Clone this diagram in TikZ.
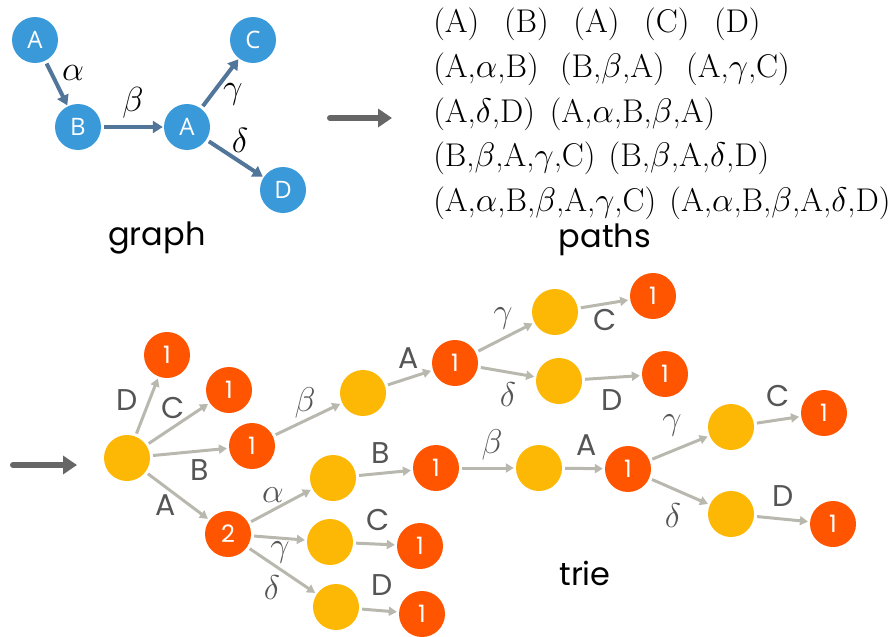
\documentclass[tikz,border=0pt]{standalone}
\usepackage{fontspec}
\newfontfamily\handfont{Poppins}
\newfontfamily\nodefont{Open Sans}
\usetikzlibrary{arrows.meta}
\definecolor{gblue}{HTML}{3A9AD9}
\definecolor{garrow}{HTML}{52759A}
\definecolor{tyellow}{HTML}{FDB705}
\definecolor{torange}{HTML}{FF5500}
\definecolor{tarrow}{HTML}{B8B8AE}
\definecolor{tlabel}{HTML}{555555}
\definecolor{bigarrow}{HTML}{666666}
\begin{document}
\begin{tikzpicture}[x=1pt,y=-1pt,
 gnode/.style={circle,fill=gblue,minimum size=46pt,inner sep=0pt,text=white,font=\nodefont\fontsize{24}{24}\selectfont},
 garr/.style={draw=garrow,line width=4pt,-{Triangle[length=10pt,width=12pt]},shorten <=3pt,shorten >=1pt},
 glab/.style={font=\fontsize{24}{24}\selectfont,scale=1.4},
 tnode/.style={circle,minimum size=46pt,inner sep=0pt,text=white,font=\handfont\fontsize{24}{24}\selectfont},
 ynode/.style={tnode,fill=tyellow},
 onode/.style={tnode,fill=torange},
 tarr/.style={draw=tarrow,line width=3pt,-{Triangle[length=8pt,width=9pt]},shorten <=3pt,shorten >=2pt},
 tlab/.style={text=tlabel,font=\handfont\fontsize{30}{30}\selectfont},
 tglab/.style={text=tlabel,font=\fontsize{24}{24}\selectfont,scale=1.38},
 bigarr/.style={draw=bigarrow,line width=6pt,line cap=round,-{Triangle[length=14pt,width=18pt]}},
 ptext/.style={anchor=west,inner sep=0pt,font=\fontsize{24}{24}\selectfont,scale=1.37},
 caption/.style={font=\handfont\fontsize{32}{32}\selectfont}
]
\useasboundingbox (0,0) rectangle (889,637);
% graph
\node[gnode] (gA1) at (35,40) {A};
\node[gnode] (gB) at (78,127) {B};
\node[gnode] (gA2) at (187,127) {A};
\node[gnode] (gC) at (253,40) {C};
\node[gnode] (gD) at (283,190) {D};
\draw[garr] (gA1) -- (gB);
\draw[garr] (gB) -- (gA2);
\draw[garr] (gA2) -- (gC);
\draw[garr] (gA2) -- (gD);
\node[glab] (la) at (73,73) {$\alpha$};
\node[glab] (lb) at (133,103) {$\beta$};
\node[glab] (lg) at (233,94) {$\gamma$};
\node[glab] (ld) at (240,140) {$\delta$};
\node[caption] (capg) at (157,238) {graph};
% arrow to paths
\coordinate (ar1s) at (330,118);
\coordinate (ar1e) at (392,118);
\draw[bigarr] (ar1s) -- (ar1e);
% paths
\node[ptext] (p1) at (433,24) {(A)\hspace{0.75em}(B)\hspace{0.75em}(A)\hspace{0.75em}(C)\hspace{0.75em}(D)};
\node[ptext] (p2) at (433,69) {(A,$\alpha$,B)\hspace{0.65em}(B,$\beta$,A)\hspace{0.65em}(A,$\gamma$,C)};
\node[ptext] (p3) at (433,114) {(A,$\delta$,D)\hspace{0.45em}(A,$\alpha$,B,$\beta$,A)};
\node[ptext] (p4) at (433,158) {(B,$\beta$,A,$\gamma$,C)\hspace{0.4em}(B,$\beta$,A,$\delta$,D)};
\node[ptext] (p5) at (433,203) {(A,$\alpha$,B,$\beta$,A,$\gamma$,C)\hspace{0.4em}(A,$\alpha$,B,$\beta$,A,$\delta$,D)};
\node[caption] (capp) at (605,240) {paths};
% arrow to trie
\coordinate (ar2s) at (13,465);
\coordinate (ar2e) at (77,465);
\draw[bigarr] (ar2s) -- (ar2e);
% trie nodes
\node[ynode] (r) at (127,458) {};
\node[onode] (d1) at (167,355) {1};
\node[onode] (c1) at (229,390) {1};
\node[onode] (b1) at (252,446) {1};
\node[onode] (a2) at (228,534) {2};
\node[ynode] (bb) at (363,393) {};
\node[onode] (ba) at (455,363) {1};
\node[ynode] (bag) at (555,312) {};
\node[onode] (bagc) at (653,296) {1};
\node[ynode] (bad) at (559,381) {};
\node[onode] (badd) at (665,374) {1};
\node[ynode] (aa) at (333,478) {};
\node[onode] (aab) at (436,468) {1};
\node[ynode] (aabb) at (539,468) {};
\node[onode] (aaba) at (628,469) {1};
\node[ynode] (aabag) at (731,427) {};
\node[onode] (aabagc) at (824,413) {1};
\node[ynode] (aabad) at (731,514) {};
\node[onode] (aabadd) at (833,524) {1};
\node[ynode] (ag) at (330,542) {};
\node[onode] (agc) at (420,546) {1};
\node[ynode] (ad) at (336,607) {};
\node[onode] (add) at (422,614) {1};
% trie edges
\draw[tarr] (r) -- (d1);
\draw[tarr] (r) -- (c1);
\draw[tarr] (r) -- (b1);
\draw[tarr] (r) -- (a2);
\draw[tarr] (b1) -- (bb);
\draw[tarr] (bb) -- (ba);
\draw[tarr] (ba) -- (bag);
\draw[tarr] (bag) -- (bagc);
\draw[tarr] (ba) -- (bad);
\draw[tarr] (bad) -- (badd);
\draw[tarr] (a2) -- (aa);
\draw[tarr] (aa) -- (aab);
\draw[tarr] (aab) -- (aabb);
\draw[tarr] (aabb) -- (aaba);
\draw[tarr] (aaba) -- (aabag);
\draw[tarr] (aabag) -- (aabagc);
\draw[tarr] (aaba) -- (aabad);
\draw[tarr] (aabad) -- (aabadd);
\draw[tarr] (a2) -- (ag);
\draw[tarr] (ag) -- (agc);
\draw[tarr] (a2) -- (ad);
\draw[tarr] (ad) -- (add);
% trie labels
\node[tlab] (l1) at (127,400) {D};
\node[tlab] (l2) at (173,408) {C};
\node[tlab] (l3) at (200,470) {B};
\node[tlab] (l4) at (166,505) {A};
\node[tglab] (l5) at (305,403) {$\beta$};
\node[tlab] (l6) at (409,358) {A};
\node[tglab] (l7) at (503,318) {$\gamma$};
\node[tlab] (l8) at (605,320) {C};
\node[tglab] (l9) at (508,395) {$\delta$};
\node[tlab] (l10) at (612,400) {D};
\node[tglab] (l11) at (273,495) {$\alpha$};
\node[tlab] (l12) at (381,453) {B};
\node[tglab] (l13) at (492,445) {$\beta$};
\node[tlab] (l14) at (587,445) {A};
\node[tglab] (l15) at (672,425) {$\gamma$};
\node[tlab] (l16) at (778,396) {C};
\node[tglab] (l17) at (673,516) {$\delta$};
\node[tlab] (l18) at (783,496) {D};
\node[tglab] (l19) at (280,552) {$\gamma$};
\node[tlab] (l20) at (378,520) {C};
\node[tglab] (l21) at (272,588) {$\delta$};
\node[tlab] (l22) at (382,585) {D};
\node[caption] (capt) at (585,573) {trie};
\end{tikzpicture}
\end{document}
